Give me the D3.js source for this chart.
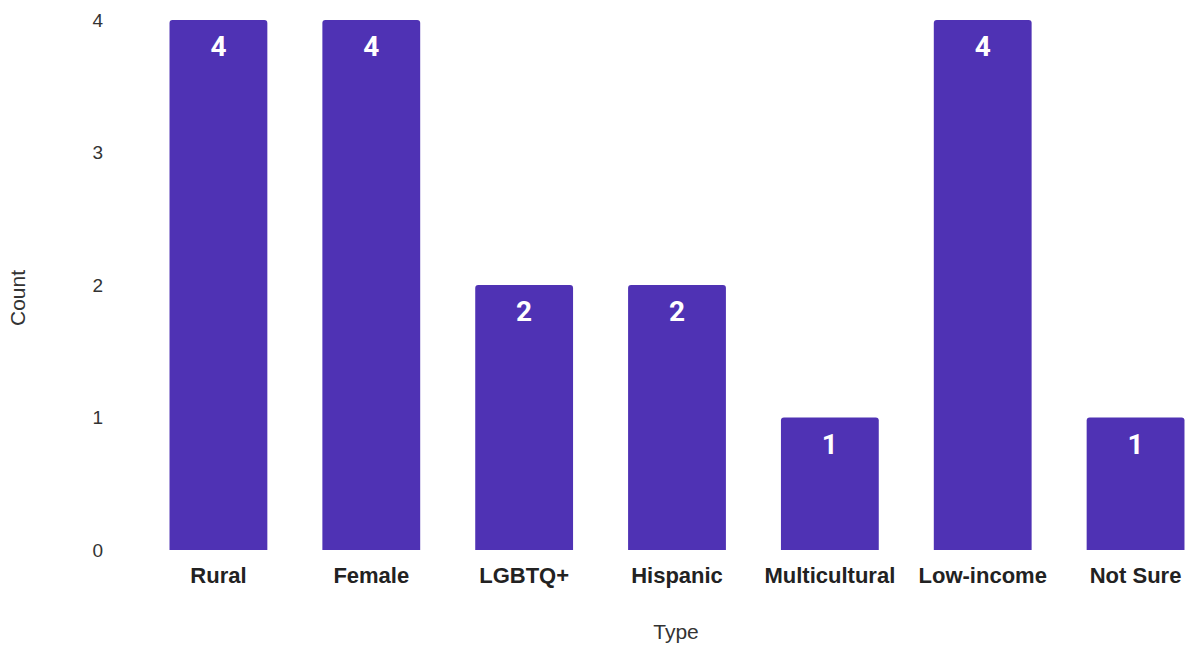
<!DOCTYPE html>
<html><head><meta charset="utf-8">
<script src="https://cdn.jsdelivr.net/npm/d3@7"></script>
<style>body{margin:0;background:#fff;} svg{display:block;}</style>
</head><body>
<svg id="chart" width="1186" height="645"></svg>
<script>
const categories = ["Rural","Female","LGBTQ+","Hispanic","Multicultural","Low-income","Not Sure"];
const counts = [4,4,2,2,1,4,1];
const yTicks = [0,1,2,3,4];

const svg = d3.select("#chart");
const x = d3.scaleBand().domain(categories).range([142, 1212]).paddingInner(0.36).paddingOuter(0.18);
const y = d3.scaleLinear().domain([0,4]).range([550, 20]);
const color = "#4F32B4";
const r = 3;
const sans = "'Liberation Sans', Arial, sans-serif";

function barPath(x0, w, y0, y1) {
  return `M${x0},${y1}V${y0+r}Q${x0},${y0} ${x0+r},${y0}H${x0+w-r}Q${x0+w},${y0} ${x0+w},${y0+r}V${y1}Z`;
}

const data = categories.map((c,i)=>({c, v: counts[i]}));
svg.append("g").selectAll("path").data(data).join("path")
  .attr("d", d => barPath(x(d.c), x.bandwidth(), y(d.v), y(0)))
  .attr("fill", color);

svg.append("g").selectAll("text").data(data).join("text")
  .attr("x", d => x(d.c) + x.bandwidth()/2)
  .attr("y", d => y(d.v) + 36)
  .attr("text-anchor","middle")
  .attr("fill","#fff")
  .attr("font-family","Roboto, sans-serif")
  .attr("font-weight","bold")
  .attr("font-size", 28)
  .text(d => d.v);

const yAxis = d3.axisLeft(y).tickValues(yTicks).tickSize(0).tickPadding(0).tickFormat(d3.format("d"));
const gy = svg.append("g").attr("transform","translate(103,0)").call(yAxis);
gy.select(".domain").remove();
gy.selectAll("text").attr("font-family",sans).attr("font-size",19).attr("fill","#333");

const xAxis = d3.axisBottom(x).tickSize(0).tickPadding(0);
const gx = svg.append("g").attr("transform","translate(0,567)").call(xAxis);
gx.select(".domain").remove();
gx.selectAll("text").attr("font-family",sans).attr("font-size",22).attr("font-weight","bold").attr("fill","#222");

svg.append("text").attr("x",676).attr("y",639).attr("text-anchor","middle")
  .attr("font-family",sans).attr("font-size",21).attr("fill","#333").text("Type");
svg.append("text").attr("transform","translate(25,298) rotate(-90)").attr("text-anchor","middle")
  .attr("font-family",sans).attr("font-size",21).attr("fill","#333").text("Count");
</script>
</body></html>
